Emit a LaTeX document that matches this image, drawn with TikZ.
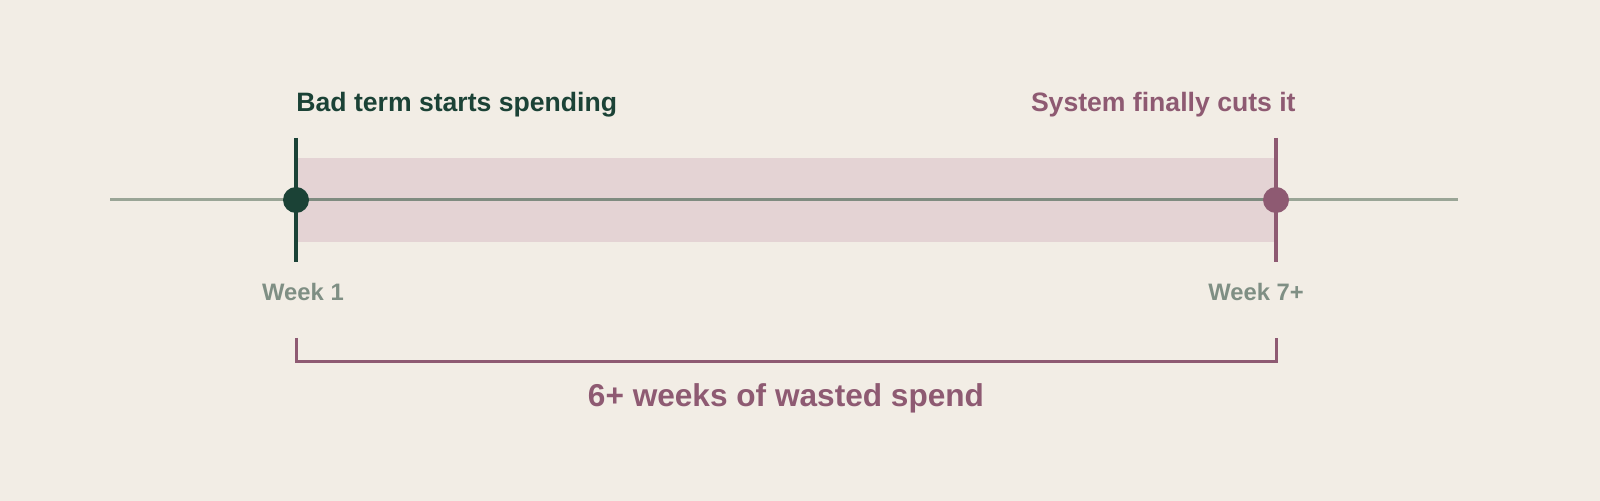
\documentclass[tikz,border=0pt]{standalone}
\usepackage{fontspec}
\setmainfont{Liberation Sans}
\definecolor{bgc}{HTML}{F2EDE5}
\definecolor{darkg}{HTML}{1B4236}
\definecolor{plum}{HTML}{8E5A72}
\definecolor{bandc}{HTML}{E4D3D4}
\definecolor{axisc}{HTML}{9AA596}
\definecolor{axisd}{HTML}{7F8B80}
\definecolor{weekc}{HTML}{7F8F84}
\begin{document}
\begin{tikzpicture}[x=0.5pt,y=-0.5pt,
  lbl/.style={font=\bfseries\fontsize{13.3}{16}\selectfont, inner sep=0pt},
  wk/.style={font=\bfseries\fontsize{11.9}{14}\selectfont, text=weekc, inner sep=0pt},
  tick/.style={line width=2pt},
  dot/.style={circle, minimum size=13pt, inner sep=0pt}]
\fill[bgc] (0,0) rectangle (1600,501);
\useasboundingbox (0,0) rectangle (1600,501);
\fill[bandc] (296,158) rectangle (1274,242);
\coordinate (L0) at (110,200);
\coordinate (R0) at (1458,200);
\coordinate (A) at (296,200);
\coordinate (B) at (1276,200);
\draw[axisc, line width=1.5pt] (L0) -- (A);
\draw[axisc, line width=1.5pt] (B) -- (R0);
\draw[axisd, line width=1.5pt] (A) -- (B);
\coordinate (At) at (296,138);
\coordinate (Ab) at (296,262);
\coordinate (Bt) at (1276,138);
\coordinate (Bb) at (1276,262);
\draw[tick, darkg] (At) -- (Ab);
\draw[tick, plum] (Bt) -- (Bb);
\node[dot, fill=darkg] (d1) at (A) {};
\node[dot, fill=plum] (d2) at (B) {};
\node[lbl, text=darkg, anchor=base west] (t1) at (296,112) {Bad term starts spending};
\node[lbl, text=plum, anchor=base east] (t2) at (1296,112) {System finally cuts it};
\node[wk, anchor=base] (w1) at (303,301) {Week 1};
\node[wk, anchor=base] (w2) at (1256,301) {Week 7+};
\coordinate (c1) at (296,338);
\coordinate (c2) at (296,362);
\coordinate (c3) at (1276,362);
\coordinate (c4) at (1276,338);
\draw[plum, line width=1.5pt] (c1) -- (c2) -- (c3) -- (c4);
\node[font=\bfseries\fontsize{15.8}{19}\selectfont, text=plum, inner sep=0pt, anchor=base] (sum) at (786,407) {6+ weeks of wasted spend};
\end{tikzpicture}
\end{document}
